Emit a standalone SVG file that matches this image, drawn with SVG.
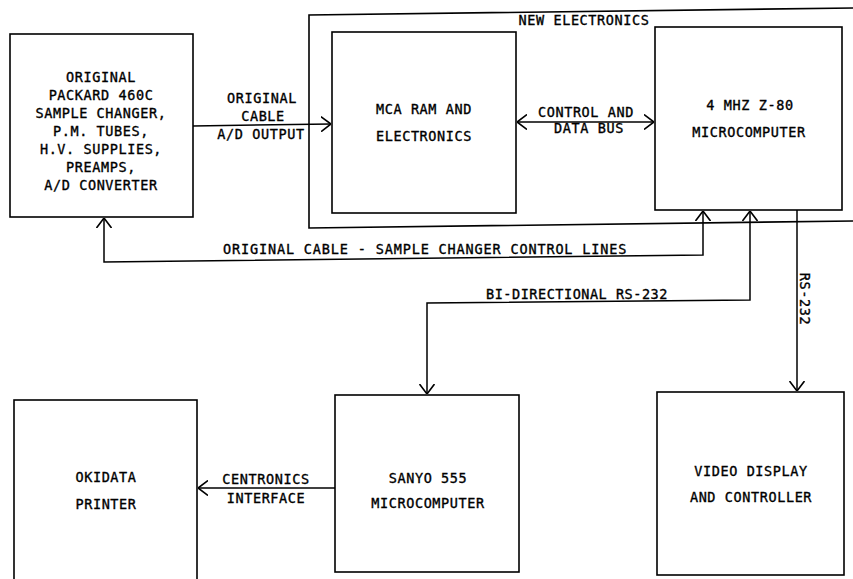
<svg xmlns="http://www.w3.org/2000/svg" width="853" height="579" viewBox="0 0 853 579">
<defs>
<marker id="arr" viewBox="0 0 10 16" refX="10" refY="8" markerWidth="10" markerHeight="16" markerUnits="userSpaceOnUse" orient="auto-start-reverse">
<path d="M0,0.5 L10,8 L0,15.5" fill="none" stroke="#000" stroke-width="1.6"/>
</marker>
</defs>
<style>
.box { fill: none; stroke: #000; stroke-width: 1.6; }
.c { fill: none; stroke: #000; stroke-width: 1.5; }
text { font-family: "DejaVu Sans Mono", "Liberation Mono", monospace; font-size: 13.5px; letter-spacing: 0.6px; fill: #000; stroke: #000; stroke-width: 0.35px; text-anchor: middle; }
</style>

<g id="new-electronics">
<path class="box" d="M853,8 L309,15 L309,228 L853,221"/>
<text x="584" y="25">NEW ELECTRONICS</text>
</g>

<g id="packard">
<rect class="box" x="10" y="34" width="183" height="183"/>
<text x="101" y="82">ORIGINAL</text>
<text x="101" y="100">PACKARD 460C</text>
<text x="101" y="118">SAMPLE CHANGER,</text>
<text x="101" y="136">P.M. TUBES,</text>
<text x="101" y="154">H.V. SUPPLIES,</text>
<text x="101" y="172">PREAMPS,</text>
<text x="101" y="190">A/D CONVERTER</text>
</g>

<g id="mca">
<rect class="box" x="332" y="32" width="184" height="181"/>
<text x="424" y="114">MCA RAM AND</text>
<text x="424" y="141">ELECTRONICS</text>
</g>

<g id="z80">
<rect class="box" x="655" y="27" width="187" height="183"/>
<text x="750" y="110">4 MHZ Z-80</text>
<text x="749" y="137">MICROCOMPUTER</text>
</g>

<g id="okidata">
<rect class="box" x="14" y="400" width="183" height="185"/>
<text x="106" y="482">OKIDATA</text>
<text x="106" y="509">PRINTER</text>
</g>

<g id="sanyo">
<rect class="box" x="335" y="395" width="184" height="177"/>
<text x="428" y="483">SANYO 555</text>
<text x="428" y="508">MICROCOMPUTER</text>
</g>

<g id="video">
<rect class="box" x="657" y="392" width="187" height="183"/>
<text x="751" y="476">VIDEO DISPLAY</text>
<text x="751" y="502">AND CONTROLLER</text>
</g>

<g id="connectors">
<path class="c" d="M193,126 L331,124" marker-end="url(#arr)"/>
<path class="c" d="M517,122 L654,122" marker-start="url(#arr)" marker-end="url(#arr)"/>
<path class="c" d="M703,211 L703,255 L104,262 L104,218" marker-start="url(#arr)" marker-end="url(#arr)"/>
<path class="c" d="M750,211 L750,300 L427,303 L427,394" marker-start="url(#arr)" marker-end="url(#arr)"/>
<path class="c" d="M797,210 L797,391" marker-end="url(#arr)"/>
<path class="c" d="M335,488 L198,488" marker-end="url(#arr)"/>
</g>

<g id="labels">
<text x="262" y="103">ORIGINAL</text>
<text x="263" y="121">CABLE</text>
<text x="261" y="139">A/D OUTPUT</text>
<text x="586" y="117">CONTROL AND</text>
<text x="589" y="133">DATA BUS</text>
<text x="425" y="254" textLength="404" lengthAdjust="spacing">ORIGINAL CABLE - SAMPLE CHANGER CONTROL LINES</text>
<text x="577" y="299" textLength="182" lengthAdjust="spacing">BI-DIRECTIONAL RS-232</text>
<text x="266" y="484">CENTRONICS</text>
<text x="266" y="503">INTERFACE</text>
<text x="0" y="0" transform="translate(800,299) rotate(90)">RS-232</text>
</g>
</svg>
